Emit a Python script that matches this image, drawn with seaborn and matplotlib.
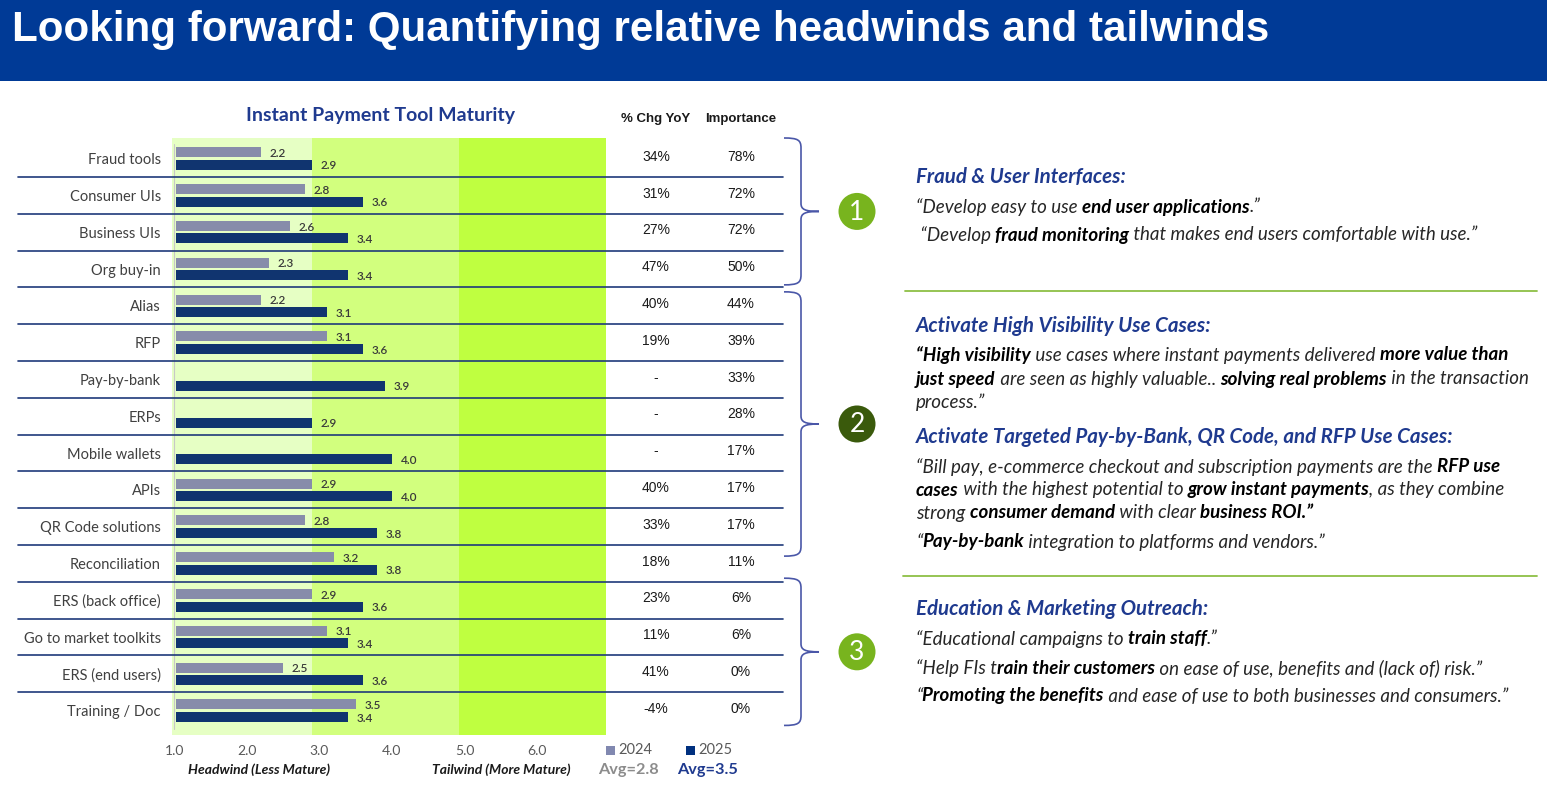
import numpy as np
import pandas as pd
import matplotlib
matplotlib.use("Agg")
import matplotlib.pyplot as plt
import seaborn as sns
from matplotlib.patches import Rectangle, Ellipse, PathPatch
from matplotlib.path import Path
from matplotlib.lines import Line2D
import matplotlib.transforms as mtransforms

# ---------------- data ----------------
tools = ["Fraud tools", "Consumer UIs", "Business UIs", "Org buy-in", "Alias", "RFP",
         "Pay-by-bank", "ERPs", "Mobile wallets", "APIs", "QR Code solutions",
         "Reconciliation", "ERS (back office)", "Go to market toolkits",
         "ERS (end users)", "Training / Doc"]
score_2024 = [2.2, 2.8, 2.6, 2.3, 2.2, 3.1, np.nan, np.nan, np.nan, 2.9, 2.8, 3.2,
              2.9, 3.1, 2.5, 3.5]
score_2025 = [2.9, 3.6, 3.4, 3.4, 3.1, 3.6, 3.9, 2.9, 4.0, 4.0, 3.8, 3.8,
              3.6, 3.4, 3.6, 3.4]
chg_yoy = ["34%", "31%", "27%", "47%", "40%", "19%", "-", "-", "-", "40%", "33%",
           "18%", "23%", "11%", "41%", "-4%"]
importance = ["78%", "72%", "72%", "50%", "44%", "39%", "33%", "28%", "17%", "17%",
              "17%", "11%", "6%", "6%", "0%", "0%"]
years = ["2024", "2025"]
averages = ["Avg=2.8", "Avg=3.5"]
x_ticks = [1, 2, 3, 4, 5, 6]
x_tick_labels = ["1.0", "2.0", "3.0", "4.0", "5.0", "6.0"]
zone_edges = [0.97, 2.9, 4.92, 6.95]
group_numbers = ["1", "2", "3"]

title = "Looking forward: Quantifying relative headwinds and tailwinds"
chart_title = "Instant Payment Tool Maturity"

# ---------------- style ----------------
sns.set_theme(style="white")
SANS = ["Lato", "DejaVu Sans"]
ARIAL = ["Liberation Sans", "DejaVu Sans"]
plt.rcParams["font.family"] = SANS

W, H = 1547, 788
fig = plt.figure(figsize=(W / 100, H / 100), dpi=100)
fig.patch.set_facecolor("white")


def fx(x):
    return x / W


def fy(y):
    return 1 - y / H


NAVY = "#1F3A8F"
C24 = "#8188B0"
C25 = "#00307F"
ZONE_COLORS = ["#E6FFC4", "#D2FF7E", "#BFFF40"]

# title bar
fig.patches.append(Rectangle((0, fy(81)), 1, 81 / H, transform=fig.transFigure,
                             facecolor="#003A96", edgecolor="none", zorder=0))
fig.text(fx(12), fy(30), title, color="white", fontsize=30.3, fontweight="bold",
         family=ARIAL, va="center", ha="left")

# ---------------- main chart ----------------
ax = fig.add_axes([fx(172), fy(735), (606 - 172) / W, (735 - 138) / H])
for i in range(3):
    ax.axvspan(zone_edges[i], zone_edges[i + 1], color=ZONE_COLORS[i], zorder=0, lw=0)

df = pd.DataFrame({
    "tool": tools * 2,
    "year": ["2024"] * len(tools) + ["2025"] * len(tools),
    "score": score_2024 + score_2025,
}).dropna()

sns.barplot(data=df, x="score", y="tool", hue="year", order=tools, hue_order=years,
            palette=[C24, C25], orient="h", width=0.68, gap=0.2, legend=False,
            linewidth=0, ax=ax, zorder=3)

ax.set_xlim(zone_edges[0], zone_edges[-1])
ax.set_ylim(15.66, -0.56)
ax.axvline(1.0, color="#C8C8C8", lw=0.8, zorder=2, ymin=0.01, ymax=0.99)
for s in ax.spines.values():
    s.set_visible(False)
ax.set_xlabel("")
ax.set_ylabel("")
ax.set_xticks(x_ticks)
ax.set_xticklabels(x_tick_labels)
ax.tick_params(axis="x", length=0, pad=7, labelsize=10, labelcolor="#595959")
ax.tick_params(axis="y", length=0, pad=8, labelsize=10.5, labelcolor="#404040")
ax.grid(False)

clip_rect = Rectangle((1.02, -2), 10, 20, transform=ax.transData)
for cont in ax.containers:
    for bar in cont:
        bar.set_clip_path(clip_rect)
        w = bar.get_width()
        if np.isfinite(w) and w > 0:
            ax.text(w + 0.12, bar.get_y() + bar.get_height() / 2 + 0.03, f"{w:.1f}",
                    fontsize=8.5, fontweight="semibold", color="#3A3A3A",
                    va="center", ha="left", zorder=4)

# row separators and table columns
blend = mtransforms.blended_transform_factory(fig.transFigure, ax.transData)
for r in range(len(tools) - 1):
    fig.add_artist(Line2D([fx(18), fx(783)], [r + 0.5, r + 0.5], transform=blend,
                          color="#1F3A7A", lw=1.2, zorder=5))
for r in range(len(tools)):
    fig.text(fx(656), r - 0.05, chg_yoy[r], transform=blend, fontsize=10, family=ARIAL,
             color="#1A1A1A", ha="center", va="center")
    fig.text(fx(741), r - 0.05, importance[r], transform=blend, fontsize=10,
             family=ARIAL, color="#1A1A1A", ha="center", va="center")

fig.text(fx(656), fy(119), "% Chg YoY", fontsize=9.5, fontweight="bold", family=ARIAL,
         color="#1A1A1A", ha="center", va="center")
fig.text(fx(741), fy(119), "Importance", fontsize=9.5, fontweight="bold", family=ARIAL,
         color="#1A1A1A", ha="center", va="center")
fig.text(fx(381), fy(115), chart_title, fontsize=14, fontweight="bold", color=NAVY,
         ha="center", va="center")

# bottom annotations / legend
fig.text(fx(259), fy(770), "Headwind (Less Mature)", fontsize=10, style="italic",
         fontweight="bold", color="#1A1A1A", ha="center", va="center")
fig.text(fx(501), fy(770), "Tailwind (More Mature)", fontsize=10, style="italic",
         fontweight="bold", color="#1A1A1A", ha="center", va="center")
for i, (yr, col, xs) in enumerate(zip(years, [C24, C25], [606, 686])):
    fig.patches.append(Rectangle((fx(xs), fy(755)), 9 / W, 9 / H,
                                 transform=fig.transFigure, facecolor=col,
                                 edgecolor="none"))
    fig.text(fx(xs + 12), fy(750), yr, fontsize=10.5, color="#595959", ha="left",
             va="center")
fig.text(fx(628), fy(770), averages[0], fontsize=11.7, fontweight="bold",
         color="#8C8C8C", ha="center", va="center")
fig.text(fx(708), fy(770), averages[1], fontsize=11.7, fontweight="bold",
         color=NAVY, ha="center", va="center")

# ---------------- braces and numbered circles ----------------
brace_spans = [(-0.56, 3.43), (3.62, 10.8), (11.4, 15.4)]
to_px = lambda yd: H - ax.transData.transform((1, yd))[1]


def brace(top, bot, x0=784, x1=801, x2=819):
    mid = (top + bot) / 2
    pts = [(x0, top), (x1 - 3, top), (x1, top + 2), (x1, top + 10),
           (x1, mid - 8),
           (x1, mid - 2), (x1 + 4, mid), (x2, mid),
           (x1 + 4, mid), (x1, mid + 2), (x1, mid + 8),
           (x1, bot - 10),
           (x1, bot - 2), (x1 - 3, bot), (x0, bot)]
    codes = [Path.MOVETO, Path.CURVE4, Path.CURVE4, Path.CURVE4, Path.LINETO,
             Path.CURVE4, Path.CURVE4, Path.CURVE4,
             Path.CURVE4, Path.CURVE4, Path.CURVE4, Path.LINETO,
             Path.CURVE4, Path.CURVE4, Path.CURVE4]
    verts = [(fx(x), fy(y)) for x, y in pts]
    fig.add_artist(PathPatch(Path(verts, codes), transform=fig.transFigure,
                             facecolor="none", edgecolor="#4A57A8", lw=1.2))
    return mid


circle_colors = ["#78B41E", "#3A5A0C", "#78B41E"]
for (t, b), num, cc in zip(brace_spans, group_numbers, circle_colors):
    mid = brace(to_px(t), to_px(b))
    fig.patches.append(Ellipse((fx(857), fy(mid)), 37 / W, 37 / H,
                               transform=fig.transFigure, facecolor=cc,
                               edgecolor="none"))
    fig.text(fx(857), fy(mid + 1), num, color="white", fontsize=19, ha="center",
             va="center")

# ---------------- right text panel ----------------
renderer = fig.canvas.get_renderer()


def text_width(s, **kw):
    t = fig.text(0, 0, "|" + s + "|", **kw)
    w1 = t.get_window_extent(renderer).width
    t.set_text("||")
    w0 = t.get_window_extent(renderer).width
    t.remove()
    return w1 - w0


QSIZE = 13.5
HSIZE = 14.8


def rich_line(x, y, runs):
    for s, bold in runs:
        kw = dict(fontsize=QSIZE, style="italic",
                  fontweight="bold" if bold else "normal",
                  color="#000000" if bold else "#262626")
        fig.text(fx(x), fy(y), s, ha="left", va="center", **kw)
        x += text_width(s, **kw)


def heading(x, y, s):
    fig.text(fx(x), fy(y), s, fontsize=HSIZE, style="italic", fontweight="bold",
             color=NAVY, ha="left", va="center")


heading(916, 177, "Fraud & User Interfaces:")
rich_line(916, 207, [("“Develop easy to use ", False), ("end user applications", True),
                     (".”", False)])
rich_line(916, 235, [(" “Develop ", False), ("fraud monitoring", True),
                     (" that makes end users comfortable with use.”", False)])

heading(916, 326, "Activate High Visibility Use Cases:")
rich_line(916, 355, [("“High visibility", True),
                     (" use cases where instant payments delivered ", False),
                     ("more value than", True)])
rich_line(916, 379, [("just speed", True), (" are seen as highly valuable.. ", False),
                     ("solving real problems", True), (" in the transaction", False)])
rich_line(916, 402, [("process.”", False)])

heading(916, 437, "Activate Targeted Pay-by-Bank, QR Code, and RFP Use Cases:")
rich_line(916, 467, [("“Bill pay, e-commerce checkout and subscription payments are the ", False),
                     ("RFP use", True)])
rich_line(916, 490, [("cases", True), (" with the highest potential to ", False),
                     ("grow instant payments", True), (", as they combine", False)])
rich_line(916, 513, [("strong ", False), ("consumer demand", True),
                     (" with clear ", False), ("business ROI.”", True)])
rich_line(916, 542, [("“", False), ("Pay-by-bank", True),
                     (" integration to platforms and vendors.”", False)])

heading(916, 609, "Education & Marketing Outreach:")
rich_line(916, 639, [("“Educational campaigns to ", False), ("train staff", True),
                     (".”", False)])
rich_line(916, 668, [("“Help FIs t", False), ("rain their customers", True),
                     (" on ease of use, benefits and (lack of) risk.”", False)])
rich_line(916, 696, [("“", False), ("Promoting the benefits", True),
                     (" and ease of use to both businesses and consumers.”", False)])

for yy, x0 in [(291, 905), (576, 903)]:
    fig.add_artist(Line2D([fx(x0), fx(1537)], [fy(yy), fy(yy)],
                          transform=fig.transFigure, color="#8DBF45", lw=1.3))

fig.savefig("out.png", dpi=100, facecolor="white")
